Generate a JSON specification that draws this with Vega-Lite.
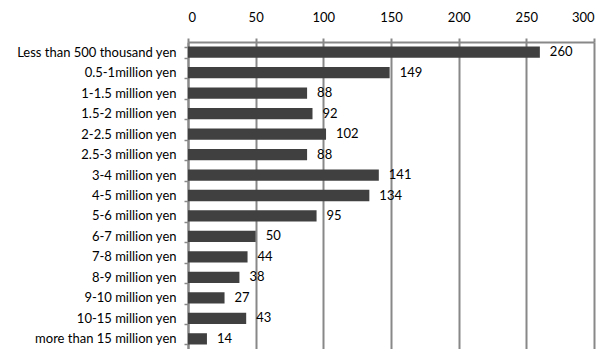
{
  "$schema": "https://vega.github.io/schema/vega-lite/v6.json",
  "width": 406,
  "height": 307,
  "autosize": {"type": "none"},
  "padding": {"left": 188, "top": 42, "right": 13, "bottom": 0},
  "background": "white",
  "config": {"view": {"stroke": null}, "font": "Lato"},
  "data": {"values": [
    {"cat": "Less than 500 thousand yen", "v": 260},
    {"cat": "0.5-1million yen", "v": 149},
    {"cat": "1-1.5 million yen", "v": 88},
    {"cat": "1.5-2 million yen", "v": 92},
    {"cat": "2-2.5 million yen", "v": 102},
    {"cat": "2.5-3 million yen", "v": 88},
    {"cat": "3-4 million yen", "v": 141},
    {"cat": "4-5 million yen", "v": 134},
    {"cat": "5-6 million yen", "v": 95},
    {"cat": "6-7 million yen", "v": 50},
    {"cat": "7-8 million yen", "v": 44},
    {"cat": "8-9 million yen", "v": 38},
    {"cat": "9-10 million yen", "v": 27},
    {"cat": "10-15 million yen", "v": 43},
    {"cat": "more than 15 million yen", "v": 14}
  ]},
  "encoding": {
    "y": {"field": "cat", "type": "nominal", "sort": null,
      "scale": {"paddingInner": 0.45, "paddingOuter": 0.22},
      "axis": {"title": null, "domainColor": "#888888", "domainWidth": 2, "tickColor": "#888888", "tickWidth": 1.5, "tickSize": 4, "tickBand": "extent", "labelPadding": 8, "labelFontSize": 13, "labelColor": "#000000"}},
    "x": {"field": "v", "type": "quantitative",
      "scale": {"domain": [0, 300], "nice": false},
      "axis": {"orient": "top", "title": null, "values": [0, 50, 100, 150, 200, 250, 300], "gridColor": "#888888", "gridWidth": 2, "gridOpacity": 1, "domainColor": "#888888", "domainWidth": 2, "tickColor": "#888888", "tickWidth": 2, "tickSize": 4, "labelPadding": 14, "labelFontSize": 13, "labelColor": "#000000"}}
  },
  "layer": [
    {"mark": {"type": "bar", "color": "#404040"}},
    {"mark": {"type": "text", "align": "left", "dx": 10, "fontSize": 13, "color": "#000000"}, "encoding": {"text": {"field": "v"}}}
  ]
}
